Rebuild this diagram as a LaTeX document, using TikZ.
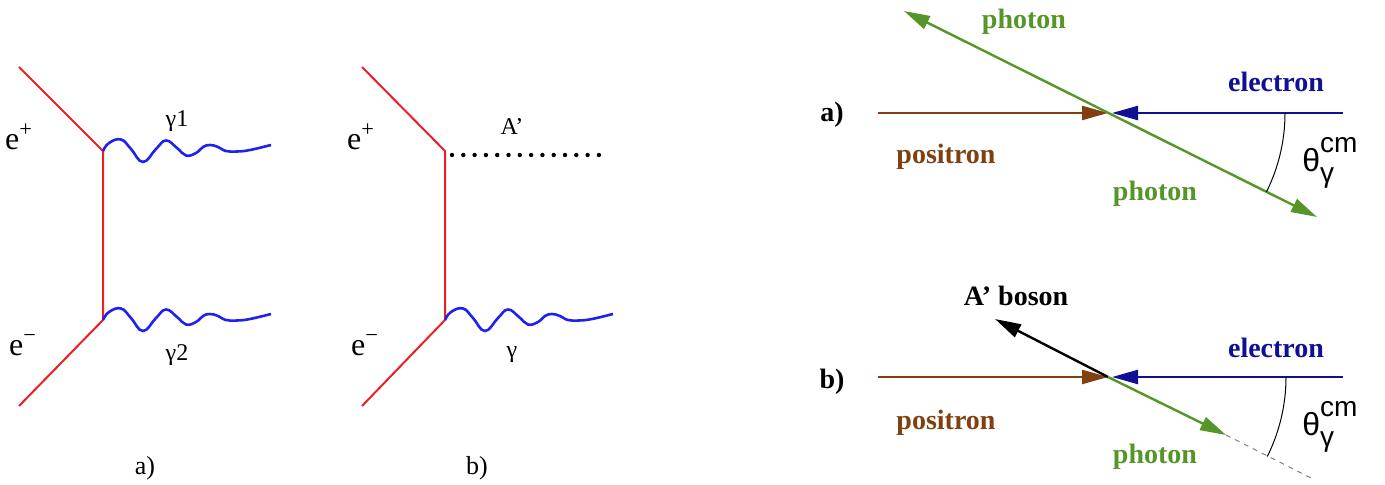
\documentclass[tikz,border=0pt]{standalone}
\usepackage{fontspec}
\setmainfont{Liberation Serif}
\setsansfont{Liberation Sans}
\usetikzlibrary{arrows.meta}

\definecolor{fermred}{RGB}{236,32,36}
\definecolor{photblue}{RGB}{32,32,240}
\definecolor{posbrown}{RGB}{128,64,16}
\definecolor{elnavy}{RGB}{16,16,150}
\definecolor{phgreen}{RGB}{86,150,40}

% wavy photon line, drawn from the origin of the current scope
\newcommand{\wiggle}{plot[smooth,tension=0.75] coordinates {(0,0) (6,-8) (18,-11.5) (28,-2) (40,11) (53,-2) (63,-10.5) (74,-3) (83,4.5) (93,2) (100,-4) (107,-6) (115,-4) (123,0) (134,0.5) (147,-1) (168,-6)}}
% angle label on the right
\newcommand{\thetacm}{θ\rlap{\raisebox{9.5pt}{\fontsize{14}{14}\selectfont cm}}\raisebox{-5.5pt}{\fontsize{14}{14}\selectfont γ}}

\begin{document}
\begin{tikzpicture}[x=0.5pt,y=-0.5pt,
    fermion/.style={fermred,line width=1pt},
    photon/.style={photblue,line width=1.3pt},
    track/.style={line width=1.2pt,-{Triangle[length=13pt,width=7pt]}},
    feynlab/.style={inner sep=0pt,font=\fontsize{16}{18}\selectfont},
    gamlab/.style={inner sep=0pt,font=\fontsize{12}{14}\selectfont},
    sublab/.style={inner sep=0pt,font=\fontsize{13}{15}\selectfont},
    partlab/.style={inner sep=0pt,font=\fontsize{14}{16}\selectfont\bfseries},
    anglab/.style={inner sep=0pt,anchor=base west,font=\sffamily\fontsize{16}{18}\selectfont},
    anglearc/.style={line width=0.5pt}]
  \useasboundingbox (0,0) rectangle (1385,485);

  % diagram a) : e+ e- -> gamma gamma
  \coordinate (ain) at (19,67);
  \coordinate (v1) at (103,151);
  \coordinate (v2) at (103,320);
  \coordinate (aout) at (19,406);
  \draw[fermion] (ain) -- (v1) -- (v2) -- (aout);
  \begin{scope}[shift={(v1)}] \draw[photon] \wiggle; \end{scope}
  \begin{scope}[shift={(v2)}] \draw[photon] \wiggle; \end{scope}
  \node[feynlab] (epa) at (19,137) {e\textsuperscript{+}};
  \node[feynlab] (ema) at (23,345) {e\textsuperscript{−}};
  \node[gamlab] (g1) at (177,121) {γ1};
  \node[gamlab] (g2) at (177,355) {γ2};
  \node[sublab] (capa) at (145,468) {a)};

  % diagram b) : e+ e- -> gamma A'
  \coordinate (bin) at (362,67);
  \coordinate (w1) at (445,151);
  \coordinate (w2) at (445,320);
  \coordinate (bout) at (362,406);
  \coordinate (astart) at (452,155);
  \coordinate (aend) at (610,155);
  \draw[fermion] (bin) -- (w1) -- (w2) -- (bout);
  \draw[line width=2.2pt,line cap=round,dash pattern=on 0pt off 5.65pt] (astart) -- (aend);
  \begin{scope}[shift={(w2)}] \draw[photon] \wiggle; \end{scope}
  \node[feynlab] (epb) at (361,137) {e\textsuperscript{+}};
  \node[feynlab] (emb) at (365,345) {e\textsuperscript{−}};
  \node[gamlab] (alab) at (512,127) {A’};
  \node[gamlab] (g3) at (512,355) {γ};
  \node[sublab] (capb) at (477,468) {b)};

  % kinematics a)
  \coordinate (va) at (1108,113);
  \coordinate (pa) at (878,113);
  \coordinate (ea) at (1343,113);
  \coordinate (ga1) at (904,11);
  \coordinate (ga2) at (1317,217);
  \draw[track,posbrown] (pa) -- (va);
  \draw[track,elnavy,shorten >=2pt] (ea) -- (va);
  \draw[phgreen,line width=1.2pt,{Triangle[length=13pt,width=7pt]}-{Triangle[length=13pt,width=7pt]}] (ga1) -- (ga2);
  \begin{scope}[shift={(va)}]
    \draw[anglearc] plot[domain=0:26.5,samples=20] ({177*cos(\x)},{177*sin(\x)});
  \end{scope}
  \node[partlab] (la) at (832,115) {a)};
  \node[partlab,phgreen] (phup) at (1024,22) {photon};
  \node[partlab,elnavy] (ela) at (1276,82) {electron};
  \node[partlab,posbrown] (poa) at (946,157) {positron};
  \node[partlab,phgreen] (phdn) at (1155,194) {photon};
  \node[anglab] (tha) at (1302,172) {\thetacm};

  % kinematics b)
  \coordinate (vb) at (1108,377);
  \coordinate (pb) at (878,377);
  \coordinate (eb) at (1343,377);
  \coordinate (bos) at (995,319);
  \coordinate (gb) at (1226,435);
  \coordinate (gbend) at (1315,480);
  \draw[track,posbrown] (pb) -- (vb);
  \draw[track,elnavy,shorten >=2pt] (eb) -- (vb);
  \draw[gray,line width=0.5pt,dash pattern=on 2.5pt off 2.5pt] (gb) -- (gbend);
  \draw[track,black] (vb) -- (bos);
  \draw[track,phgreen] (vb) -- (gb);
  \begin{scope}[shift={(vb)}]
    \draw[anglearc] plot[domain=0:26.5,samples=20] ({178*cos(\x)},{178*sin(\x)});
  \end{scope}
  \node[partlab] (lb) at (832,382) {b)};
  \node[partlab] (boslab) at (1016,296) {A’ boson};
  \node[partlab,elnavy] (elb) at (1276,348) {electron};
  \node[partlab,posbrown] (pob) at (946,423) {positron};
  \node[partlab,phgreen] (phb) at (1155,457) {photon};
  \node[anglab] (thb) at (1302,436) {\thetacm};
\end{tikzpicture}
\end{document}
